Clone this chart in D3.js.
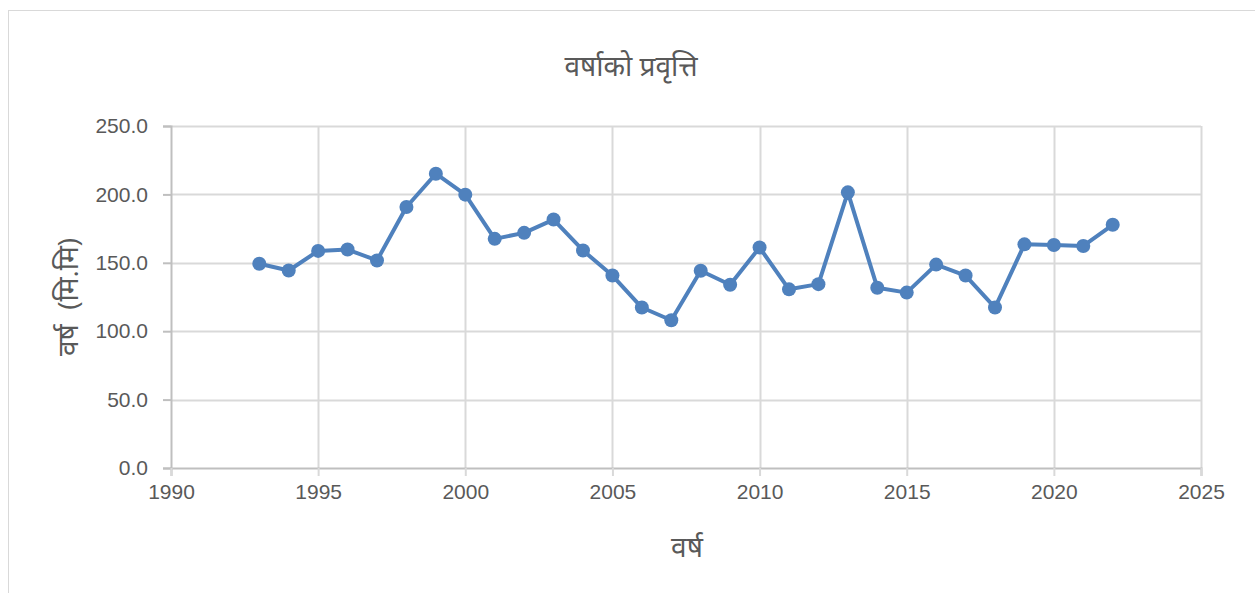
<!DOCTYPE html>
<html>
<head>
<meta charset="utf-8">
<script src="https://cdn.jsdelivr.net/npm/d3@7"></script>
<style>
  body { margin: 0; background: #fff; }
  svg { display: block; font-family: 'Open Sans', 'Noto Sans', sans-serif; }
</style>
</head>
<body>
<div id="chart"></div>
<script>
// Data
const years = [1993, 1994, 1995, 1996, 1997, 1998, 1999, 2000, 2001, 2002,
  2003, 2004, 2005, 2006, 2007, 2008, 2009, 2010, 2011, 2012,
  2013, 2014, 2015, 2016, 2017, 2018, 2019, 2020, 2021, 2022];
const rainfall = [149.3, 144.4, 158.7, 159.7, 151.7, 190.8, 215.1, 199.8, 167.5, 171.9,
  181.6, 159.0, 140.7, 117.3, 108.0, 144.2, 134.0, 161.2, 130.6, 134.4,
  201.5, 131.8, 128.2, 148.7, 140.7, 117.3, 163.5, 163.0, 162.3, 177.8];
const xTicks = [1990, 1995, 2000, 2005, 2010, 2015, 2020, 2025];
const yTicks = [0, 50, 100, 150, 200, 250];

const title = 'वर्षाको प्रवृत्ति';
const xTitle = 'वर्ष';
const yTitle = 'वर्ष\u00a0\u00a0(मि.मि)';

const width = 1255, height = 593;
const margin = { top: 126, right: 54, bottom: 125, left: 171 };
const innerW = width - margin.left - margin.right;
const innerH = height - margin.top - margin.bottom;

const svg = d3.select('#chart')
  .append('svg')
  .attr('width', width)
  .attr('height', height);

// outer chart border
svg.append('rect')
  .attr('x', 8.5).attr('y', 10.5)
  .attr('width', width + 10).attr('height', height + 10)
  .attr('fill', 'none')
  .attr('stroke', '#d9d9d9');

const x = d3.scaleLinear().domain([1990, 2025]).range([0, innerW]);
const y = d3.scaleLinear().domain([0, 250]).range([innerH, 0]);

const g = svg.append('g')
  .attr('transform', `translate(${margin.left},${margin.top})`);

// grid
g.append('g')
  .selectAll('line')
  .data(yTicks.slice(1))
  .join('line')
  .attr('x1', 0).attr('x2', innerW)
  .attr('y1', d => Math.round(y(d)) + 0.5).attr('y2', d => Math.round(y(d)) + 0.5)
  .attr('stroke', '#d9d9d9').attr('stroke-width', 2);

g.append('g')
  .selectAll('line')
  .data(xTicks.slice(1))
  .join('line')
  .attr('x1', d => Math.round(x(d)) + 0.5).attr('x2', d => Math.round(x(d)) + 0.5)
  .attr('y1', 0).attr('y2', innerH)
  .attr('stroke', '#d9d9d9').attr('stroke-width', 2);

// y axis
const yAxis = g.append('g')
  .call(d3.axisLeft(y).tickValues(yTicks).tickFormat(d3.format('.1f')).tickSize(8).tickPadding(15));
yAxis.select('.domain').attr('stroke', '#bfbfbf').attr('stroke-width', 2);
yAxis.selectAll('.tick line').attr('stroke', '#bfbfbf').attr('stroke-width', 2);
yAxis.selectAll('.tick text')
  .attr('fill', '#595959').attr('font-size', 21);

// x axis
const xAxis = g.append('g')
  .attr('transform', `translate(0,${innerH})`)
  .call(d3.axisBottom(x).tickValues(xTicks).tickFormat(d3.format('d')).tickSize(8).tickPadding(8));
xAxis.select('.domain').attr('stroke', '#bfbfbf').attr('stroke-width', 2);
xAxis.selectAll('.tick line').attr('stroke', '#d9d9d9').attr('stroke-width', 2);
xAxis.selectAll('.tick text')
  .attr('fill', '#595959').attr('font-size', 21);

// series line
const line = d3.line()
  .x((d, i) => x(years[i]))
  .y(d => y(d));

g.append('path')
  .datum(rainfall)
  .attr('d', line)
  .attr('fill', 'none')
  .attr('stroke', '#4f81bd')
  .attr('stroke-width', 4)
  .attr('stroke-linejoin', 'round');

g.append('g')
  .selectAll('circle')
  .data(rainfall)
  .join('circle')
  .attr('cx', (d, i) => x(years[i]))
  .attr('cy', d => y(d))
  .attr('r', 7)
  .attr('fill', '#4f81bd');

// titles
svg.append('text')
  .attr('x', 631).attr('y', 76)
  .attr('text-anchor', 'middle')
  .attr('fill', '#595959')
  .attr('font-size', 28)
  .text(title);

svg.append('text')
  .attr('x', 687).attr('y', 557)
  .attr('text-anchor', 'middle')
  .attr('fill', '#595959')
  .attr('font-size', 28)
  .text(xTitle);

svg.append('text')
  .attr('transform', 'translate(78,297) rotate(-90)')
  .attr('text-anchor', 'middle')
  .attr('fill', '#595959')
  .attr('font-size', 28)
  .text(yTitle);
</script>
</body>
</html>
